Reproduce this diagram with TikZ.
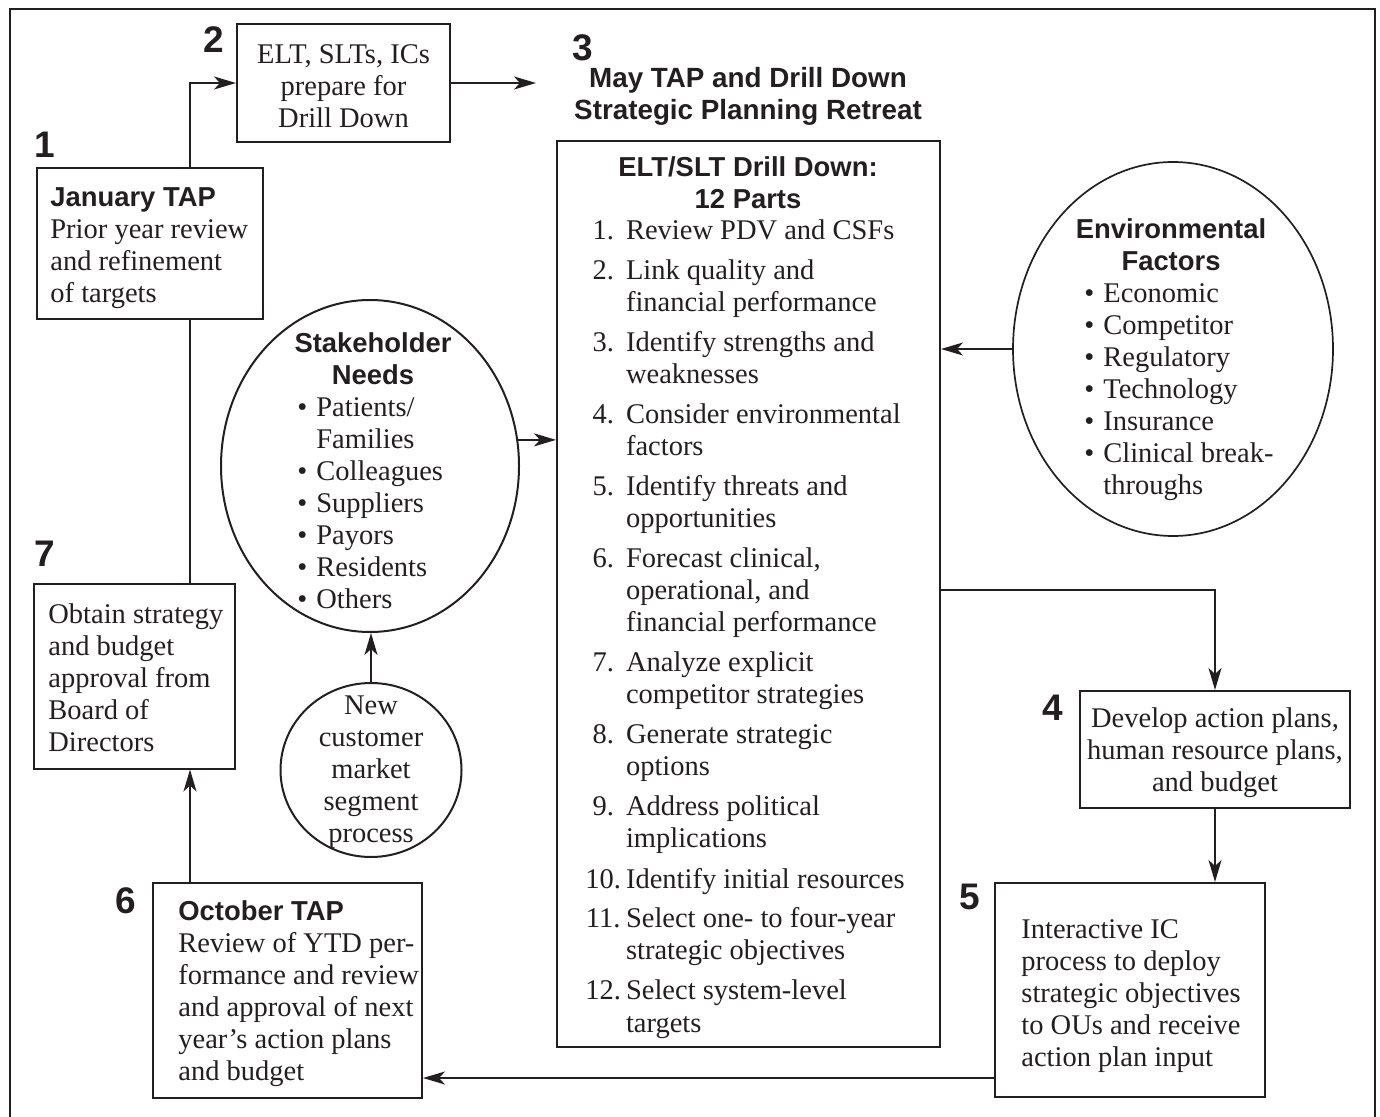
\documentclass[tikz,border=0pt]{standalone}
\usepackage{fontspec}
\setmainfont{Liberation Serif}
\setsansfont{Liberation Sans}
\usetikzlibrary{arrows.meta,shapes.geometric}
\definecolor{ink}{RGB}{35,31,32}
\newcommand\bodysize{\fontsize{14.25}{16}\selectfont}
\newcommand\headsize{\sffamily\bfseries\fontsize{13.7}{16}\selectfont}
\newcommand\titlesize{\sffamily\bfseries\fontsize{13.9}{16}\selectfont}

\begin{document}
\begin{tikzpicture}[x=0.5pt,y=-0.5pt,
  every node/.style={text=ink, font=\bodysize},
  box/.style={draw=ink, line width=1pt, rectangle, inner sep=0pt},
  oval/.style={draw=ink, line width=1pt, ellipse, inner sep=0pt},
  boxtext/.style={inner sep=0pt, align=left, anchor=west},
  link/.style={draw=ink, line width=1pt},
  arr/.style={link, -{Stealth[length=11pt,width=6.5pt,inset=3pt]}},
  stepnum/.style={font=\sffamily\bfseries\fontsize{18.5}{20}\selectfont},
  head/.style={font=\headsize},
]
\path[use as bounding box] (0,0) rectangle (1380,1117);

% outer frame (runs off the lower edge)
\draw[ink, line width=1.4pt] (10,1130) -- (10,9) -- (1375,9) -- (1375,1130);

% step numbers
\node[stepnum] (n1) at (45,145) {1};
\node[stepnum] (n2) at (214,40) {2};
\node[stepnum] (n3) at (583,48) {3};
\node[stepnum] (n4) at (1053,708) {4};
\node[stepnum] (n5) at (970,897) {5};
\node[stepnum] (n6) at (126,901) {6};
\node[stepnum] (n7) at (45,554) {7};

% step boxes
\node[box, minimum width=113pt, minimum height=75.5pt] (b1) at (150,244) {};
\node[boxtext] (b1t) at (50,248)
  {{\headsize January TAP}\\Prior year review\\and refinement\\of targets};

\node[box, minimum width=106.5pt, minimum height=59pt] (b2) at (343.5,83) {};
\node[align=center, inner sep=0pt] (b2t) at (343.5,86)
  {ELT, SLTs, ICs\\prepare for\\Drill Down};

\node[font=\titlesize, align=center] (title) at (748,96)
  {May TAP and Drill Down\\Strategic Planning Retreat};

\node[box, minimum width=191.5pt, minimum height=453pt] (b3) at (748.5,594) {};

\node[box, minimum width=135pt, minimum height=58.5pt] (b4) at (1215,749.5) {};
\node[align=center, inner sep=0pt] (b4t) at (1215,753)
  {Develop action plans,\\human resource plans,\\and budget};

\node[box, minimum width=135pt, minimum height=107pt] (b5) at (1130,990) {};
\node[boxtext] (b5t) at (1021,996)
  {Interactive IC\\process to deploy\\strategic objectives\\to OUs and receive\\action plan input};

\node[box, minimum width=134.5pt, minimum height=107.5pt] (b6) at (287.5,990.5) {};
\node[boxtext] (b6t) at (178,994)
  {{\headsize October TAP}\\Review of YTD per-\\formance and review\\and approval of next\\year’s action plans\\and budget};

\node[box, minimum width=100.5pt, minimum height=92.5pt] (b7) at (134,676) {};
\node[boxtext] (b7t) at (48,678)
  {Obtain strategy\\and budget\\approval from\\Board of\\Directors};

% drill-down contents
\node[head, align=center] (b3head) at (748,183) {ELT/SLT Drill Down:\\12 Parts};
\node[anchor=base west, inner sep=0pt] (b3list) at (585,240) {%
\begin{tabular}[t]{@{}c@{\hspace{2.5pt}}l@{}}
1. & Review PDV and CSFs\\[4pt]
2. & Link quality and\\ & financial performance\\[4pt]
3. & Identify strengths and\\ & weaknesses\\[4pt]
4. & Consider environmental\\ & factors\\[4pt]
5. & Identify threats and\\ & opportunities\\[4pt]
6. & Forecast clinical,\\ & operational, and\\ & financial performance\\[4pt]
7. & Analyze explicit\\ & competitor strategies\\[4pt]
8. & Generate strategic\\ & options\\[4pt]
9. & Address political\\ & implications\\[4pt]
10. & Identify initial resources\\[4pt]
11. & Select one- to four-year\\ & strategic objectives\\[4pt]
12. & Select system-level\\ & targets
\end{tabular}};

% environmental factors
\node[oval, line width=0.85pt, minimum width=160pt, minimum height=187pt] (env) at (1173,349) {};
\node[anchor=base, inner sep=0pt] (envhead) at (1171,238.5) {%
\begin{tabular}[t]{@{}c@{}}\headsize Environmental\\\headsize Factors\end{tabular}};
\node[anchor=base west, inner sep=0pt] (envlist) at (1084,302.5) {%
\begin{tabular}[t]{@{}l@{\hspace{4.5pt}}l@{}}
\textbullet & Economic\\
\textbullet & Competitor\\
\textbullet & Regulatory\\
\textbullet & Technology\\
\textbullet & Insurance\\
\textbullet & Clinical break-\\
 & throughs
\end{tabular}};

% stakeholder needs
\node[oval, minimum width=149pt, minimum height=166pt] (stake) at (370,466) {};
\node[anchor=base, inner sep=0pt] (stakehead) at (373,352.5) {%
\begin{tabular}[t]{@{}c@{}}\headsize Stakeholder\\\headsize Needs\end{tabular}};
\node[anchor=base west, inner sep=0pt] (stakelist) at (297,416.5) {%
\begin{tabular}[t]{@{}l@{\hspace{4.5pt}}l@{}}
\textbullet & Patients/\\
 & Families\\
\textbullet & Colleagues\\
\textbullet & Suppliers\\
\textbullet & Payors\\
\textbullet & Residents\\
\textbullet & Others
\end{tabular}};

% new customer segments
\node[oval, minimum width=90.5pt, minimum height=87pt] (newc) at (371,770) {};
\node[align=center, inner sep=0pt] (newctxt) at (371,772) {New\\customer\\market\\segment\\process};

% connectors
\coordinate (spine) at (190,0);
\coordinate (t3) at (536,83);
\coordinate (split) at (0,590);
\coordinate (ret) at (0,1078);
\draw[arr] (b1.north -| spine) |- (b2.west);
\draw[arr] (b2.east) -- (t3);
\draw[link] (b7.north -| spine) -- (b1.south -| spine);
\draw[arr] (b6.north -| spine) -- (b7.south -| spine);
\draw[arr] (env.west) -- (b3.east |- env.west);
\draw[arr] (stake.10) -- (b3.west |- stake.10);
\draw[arr] (newc.north) -- (newc.north |- stake.south);
\draw[arr] (b3.east |- split) -| (b4.north);
\draw[arr] (b4.south) -- (b5.north -| b4.south);
\draw[arr] (b5.west |- ret) -- (b6.east |- ret);
\end{tikzpicture}
\end{document}
